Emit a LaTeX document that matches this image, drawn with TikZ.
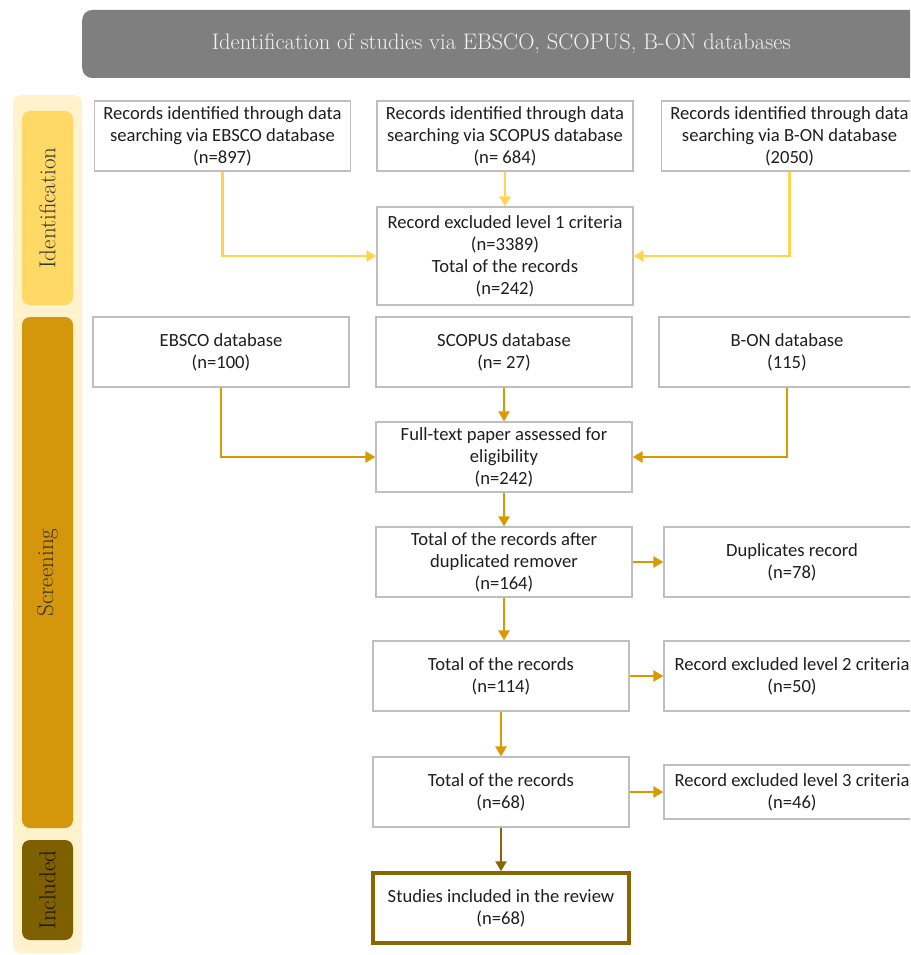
\documentclass[tikz,border=0pt]{standalone}
\usepackage{fontspec}
\newfontfamily\boxfont{Carlito}
\usepackage{tikz}
\usetikzlibrary{arrows.meta}
\definecolor{headgray}{HTML}{7F7F7F}
\definecolor{bandcream}{HTML}{FFF2CC}
\definecolor{idyellow}{HTML}{FFD966}
\definecolor{scrgold}{HTML}{D4960A}
\definecolor{incbrown}{HTML}{7F6000}
\definecolor{boxgray}{HTML}{BFBFBF}
\definecolor{arryellow}{HTML}{FFD54F}
\definecolor{arrgold}{HTML}{D99A00}
\definecolor{arrbrown}{HTML}{8B6500}

\tikzset{
  recbox/.style={draw=boxgray,line width=1.2pt,fill=white,align=center,
    minimum width=256pt,minimum height=70pt,inner sep=0pt,text=black!88,
    font=\boxfont\fontsize{18.6}{22}\selectfont},
  tab/.style={rounded corners=8pt,minimum height=51pt,inner sep=0pt,rotate=90,
    text=black!80,font=\fontsize{23}{26}\selectfont},
  arrY/.style={draw=arryellow,line width=2.8pt,-{Triangle[length=10pt,width=11pt]}},
  arrG/.style={draw=arrgold,line width=2.8pt,-{Triangle[length=10pt,width=11pt]}},
  arrB/.style={draw=arrbrown,line width=2.8pt,-{Triangle[length=10pt,width=11pt]}}
}

\begin{document}
\begin{tikzpicture}[x=1pt,y=-1pt]
\clip (0,0) rectangle (910,955);
\node[fill=headgray,rounded corners=10pt,minimum width=838pt,minimum height=68pt,anchor=west,
  text=white!95!black,font=\fontsize{22.5}{26}\selectfont] (head) at (82,44)
  {Identification of studies via EBSCO, SCOPUS, B-ON databases};
\fill[bandcream,rounded corners=8pt] (13,95) rectangle (82,953);
\node[tab,fill=idyellow,minimum width=194pt] (idtab) at (47.5,208) {Identification};
\node[tab,fill=scrgold,minimum width=511pt] (scrtab) at (47.5,572.5) {Screening};
\node[tab,fill=incbrown,minimum width=100pt,text=black!80!incbrown] (inctab) at (47.5,890) {Included};

\node[recbox] (ebsco) at (222.5,136) {Records identified through data\\searching via EBSCO database\\(n=897)};
\node[recbox] (scopus) at (505,136) {Records identified through data\\searching via SCOPUS database\\(n= 684)};
\node[recbox] (bon) at (789.5,136) {Records identified through data\\searching via B-ON database\\(2050)};
\node[recbox,minimum height=98pt] (lvl1) at (505,256) {Record excluded level 1 criteria\\(n=3389)\\Total of the records\\(n=242)};

\node[recbox] (ebscodb) at (221,352) {EBSCO database\\(n=100)};
\node[recbox] (scopusdb) at (504,352) {SCOPUS database\\(n= 27)};
\node[recbox] (bondb) at (787,352) {B-ON database\\(115)};
\node[recbox] (full) at (504,457) {Full-text paper assessed for\\eligibility\\(n=242)};

\node[recbox] (dupl) at (504,562) {Total of the records after\\duplicated remover\\(n=164)};
\node[recbox] (duprec) at (792,562) {Duplicates record\\(n=78)};
\node[recbox] (tot114) at (501,676) {Total of the records\\(n=114)};
\node[recbox] (lvl2) at (792,676) {Record excluded level 2 criteria\\(n=50)};
\node[recbox] (tot68) at (501,792) {Total of the records\\(n=68)};
\node[recbox,minimum height=54pt] (lvl3) at (792,792) {Record excluded level 3 criteria\\(n=46)};
\node[recbox,draw=arrbrown,line width=3.5pt,minimum height=70pt] (incl) at (501,908) {Studies included in the review\\(n=68)};

\draw[arrY] (ebsco.south) |- (lvl1.west);
\draw[arrY] (scopus) -- (lvl1);
\draw[arrY] (bon.south) |- (lvl1.east);

\draw[arrG] (ebscodb.south) |- (full.west);
\draw[arrG] (scopusdb) -- (full);
\draw[arrG] (bondb.south) |- (full.east);
\draw[arrG] (full) -- (dupl);
\draw[arrG] (dupl) -- (duprec);
\draw[arrG] (dupl.south) -- (dupl.south |- tot114.north);
\draw[arrG] (tot114) -- (lvl2);
\draw[arrG] (tot114) -- (tot68);
\draw[arrG] (tot68) -- (lvl3);
\draw[arrB] (tot68) -- (incl);
\end{tikzpicture}
\end{document}
